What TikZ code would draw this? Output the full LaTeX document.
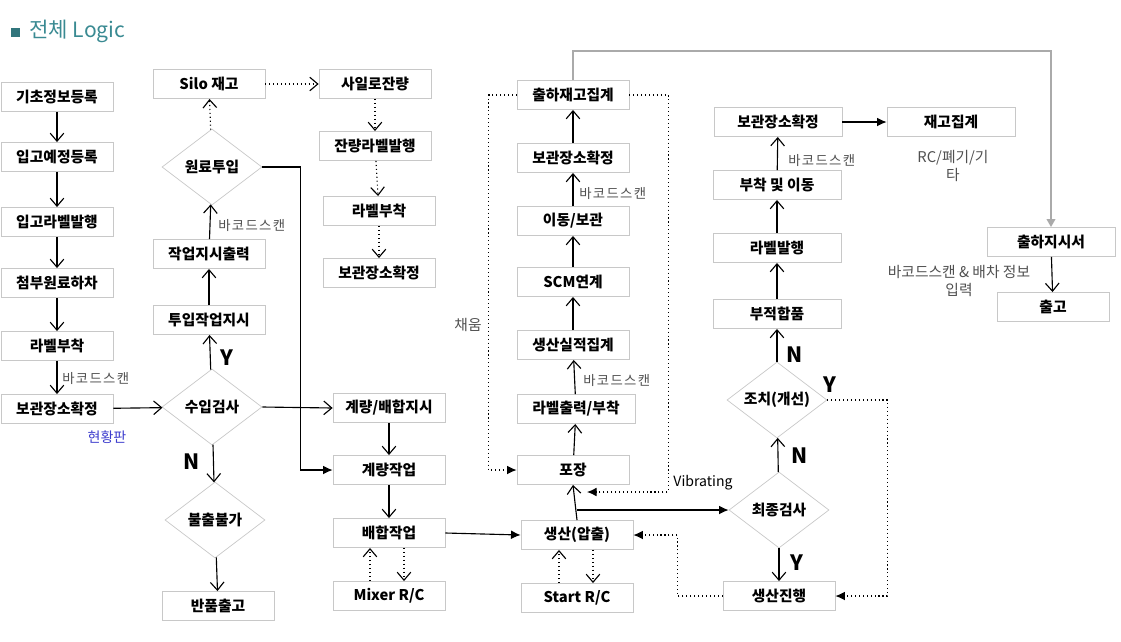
\documentclass[tikz,border=0pt]{standalone}
\usepackage{fontspec}
\setmainfont{Noto Sans CJK KR}
\newfontfamily\scanfont[LetterSpace=10]{Noto Sans CJK KR}
\usetikzlibrary{shapes.geometric,arrows.meta}
\definecolor{titleteal}{RGB}{58,138,146}
\definecolor{boxgray}{RGB}{200,200,200}
\definecolor{lblgray}{RGB}{80,80,80}
\definecolor{flowgray}{RGB}{170,170,170}
\definecolor{boardblue}{RGB}{60,60,205}

\begin{document}
\begin{tikzpicture}[
  x=0.025cm, y=-0.025cm,
  font=\fontsize{10}{12}\selectfont,
  box/.style={rectangle, draw=boxgray, line width=0.5pt, minimum height=7.3mm,
              minimum width=28mm, inner sep=2pt, font=\fontsize{10.5}{12}\selectfont\bfseries, align=center},
  wbox/.style={box, minimum width=32mm},
  dia/.style={diamond, draw=boxgray, line width=0.5pt, minimum width=25mm, minimum height=19mm,
              inner sep=0pt, aspect=1.3, font=\fontsize{10.5}{12}\selectfont\bfseries},
  arr/.style={-{Straight Barb[length=2mm,width=3.4mm]}, line width=0.8pt},
  farr/.style={-{Latex[length=2.4mm,width=2.2mm]}, line width=0.8pt},
  darr/.style={arr, dotted},
  dfarr/.style={farr, dotted},
  yn/.style={font=\fontsize{15}{18}\selectfont\bfseries},
  scan/.style={text=lblgray, font=\scanfont\fontsize{9.5}{11}\selectfont, anchor=west, inner sep=0pt},
  note/.style={text=lblgray, font=\fontsize{10.5}{13}\selectfont, align=center, inner sep=0pt}
]
\useasboundingbox (0,0) rectangle (1121,641);

% title
\fill[titleteal!85!black] (11,28) rectangle (20,37);
\node[anchor=west, text=titleteal, font=\fontsize{15}{18}\selectfont, inner sep=0pt] (title) at (29,31) {전체 Logic};

% receiving
\node[box] (regbase)  at (57,97)  {기초정보등록};
\node[box] (regplan)  at (57,157) {입고예정등록};
\node[box] (printlbl) at (57,222) {입고라벨발행};
\node[box] (unload)   at (57,283) {첨부원료하차};
\node[box] (attach)   at (57,346) {라벨부착};
\node[box] (locA)     at (57,409) {보관장소확정};
\node[text=boardblue, inner sep=0pt] (board) at (107,437) {현황판};

\draw[arr] (regbase) -- (regplan);
\draw[arr] (regplan) -- (printlbl);
\draw[arr] (printlbl) -- (unload);
\draw[arr] (unload) -- (attach);
\draw[arr] (attach) -- (locA);
\node[scan] (scanA) at (62,378) {바코드스캔};

% inspection / feeding
\node[box] (silo)     at (209,84)  {Silo 재고};
\node[dia] (feed)     at (212,167) {원료투입};
\node[box] (order)    at (209,254) {작업지시출력};
\node[box] (inputord) at (209,320) {투입작업지시};
\node[dia] (inspect)  at (212,407) {수입검사};
\node[dia] (reject)   at (215,520) {불출불가};
\node[box] (returned) at (218,606) {반품출고};

\draw[arr] (locA) -- (inspect);
\draw[arr] (inspect) -- (inputord);
\node[yn] (yA) at (227,358) {Y};
\draw[arr] (inputord) -- (order);
\draw[arr] (order) -- (feed);
\node[scan] (scanB) at (218,225) {바코드스캔};
\draw[darr] (feed) -- (silo);
\draw[arr] (inspect) -- (reject);
\node[yn] (nA) at (192,462) {N};
\draw[arr] (reject) -- (returned);

% silo remainder
\node[box] (siloleft) at (375,84)  {사일로잔량};
\node[box] (remlbl)   at (375,146) {잔량라벨발행};
\node[box] (attachB)  at (379,211) {라벨부착};
\node[box] (locB)     at (379,273) {보관장소확정};

\draw[darr] (silo) -- (siloleft);
\draw[darr] (siloleft) -- (remlbl);
\draw[darr] (remlbl) -- (attachB);
\draw[darr] (attachB) -- (locB);

% weighing / mixing
\node[box] (mixord)  at (389,408) {계량/배합지시};
\node[box] (weigh)   at (389,470) {계량작업};
\node[box] (mixing)  at (389,533) {배합작업};
\node[box] (mixerrc) at (389,596) {Mixer R/C};

\draw[farr] (feed.east) -- ++(38,0) |- (weigh.west);
\draw[arr] (inspect.east) -- (mixord.west);
\draw[arr] (mixord) -- (weigh);
\draw[arr] (weigh) -- (mixing);
\draw[darr] ([xshift=-4.75mm]mixerrc.north) -- ([xshift=-4.75mm]mixing.south);
\draw[darr] ([xshift=3.75mm]mixing.south) -- ([xshift=3.75mm]mixerrc.north);

% production
\node[box] (shipsum)  at (573,95)  {출하재고집계};
\node[box] (locC)     at (573,158) {보관장소확정};
\node[box] (move)     at (573,221) {이동/보관};
\node[box] (scm)      at (573,282) {SCM연계};
\node[box] (prodsum)  at (573,345) {생산실적집계};
\node[box, minimum width=29.5mm] (lblprint) at (576,409) {라벨출력/부착};
\node[box] (pack)     at (573,470) {포장};
\node[box] (extrude)  at (577,535) {생산(압출)};
\node[box] (startrc)  at (577,598) {Start R/C};

\draw[farr] (mixing.east) -- (extrude.west);
\draw[darr] ([xshift=-4.5mm]startrc.north) -- ([xshift=-4.5mm]extrude.south);
\draw[darr] ([xshift=4mm]extrude.south) -- ([xshift=4mm]startrc.north);
\draw[arr] (extrude.north) -- (pack.south);
\draw[arr] (pack) -- (lblprint);
\draw[arr] (lblprint) -- (prodsum);
\node[scan] (scanC) at (583,380) {바코드스캔};
\draw[arr] (prodsum) -- (scm);
\draw[arr] (scm) -- (move);
\draw[arr] (move) -- (locC);
\node[scan] (scanD) at (579,193) {바코드스캔};
\draw[arr] (locC) -- (shipsum);

\coordinate (vibin) at (587,492);
\draw[dfarr] (shipsum.east) -- ++(39,0) |- (vibin);
\node[inner sep=0pt] (vib) at (703,483) {Vibrating};
\draw[dfarr] (shipsum.west) -- ++(-28,0) |- (pack.west);
\node[note] (fill) at (468,325) {채움};

% final inspection
\node[wbox] (locD)     at (778,122) {보관장소확정};
\node[wbox] (stocksum) at (951,122) {재고집계};
\node[wbox] (attachmv) at (777,185) {부착 및 이동};
\node[wbox] (lblissue) at (777,248) {라벨발행};
\node[wbox] (defect)   at (777,314) {부적합품};
\node[dia]  (fix)      at (777,400) {조치(개선)};
\node[dia]  (finalchk) at (779,510) {최종검사};
\node[box]  (proceed)  at (779,596) {생산진행};

\draw[farr] (extrude.north |- finalchk.west) -- (finalchk.west);
\draw[arr] (finalchk) -- (fix);
\node[yn] (nB) at (800,456) {N};
\draw[arr] (finalchk) -- (proceed);
\node[yn] (yB) at (797,563) {Y};
\draw[arr] (fix) -- (defect);
\node[yn] (nC) at (795,355) {N};
\node[yn] (yC) at (830,385) {Y};
\draw[dfarr] (fix.east) -- ++(60,0) |- (proceed.east);
\draw[dfarr] (proceed.west) -- ++(-45,0) |- (extrude.east);
\draw[arr] (defect) -- (lblissue);
\draw[arr] (lblissue) -- (attachmv);
\draw[arr] (attachmv) -- (locD);
\node[scan] (scanE) at (788,160) {바코드스캔};
\draw[farr] (locD) -- (stocksum);
\node[note] (rcnote) at (953,166) {RC/폐기/기\\타};

% shipping
\node[wbox] (shipord) at (1051,242) {출하지시서};
\node[box]  (shipout) at (1053,307) {출고};
\draw[-{Triangle[length=2mm,width=2.2mm]}, flowgray, line width=0.9pt] (shipsum.north) -- ++(0,-29) -| (shipord.north);
\draw[arr] (shipord) -- (shipout);
\node[note] (shipnote) at (959,281) {바코드스캔 \& 배차 정보\\입력};
\end{tikzpicture}
\end{document}
